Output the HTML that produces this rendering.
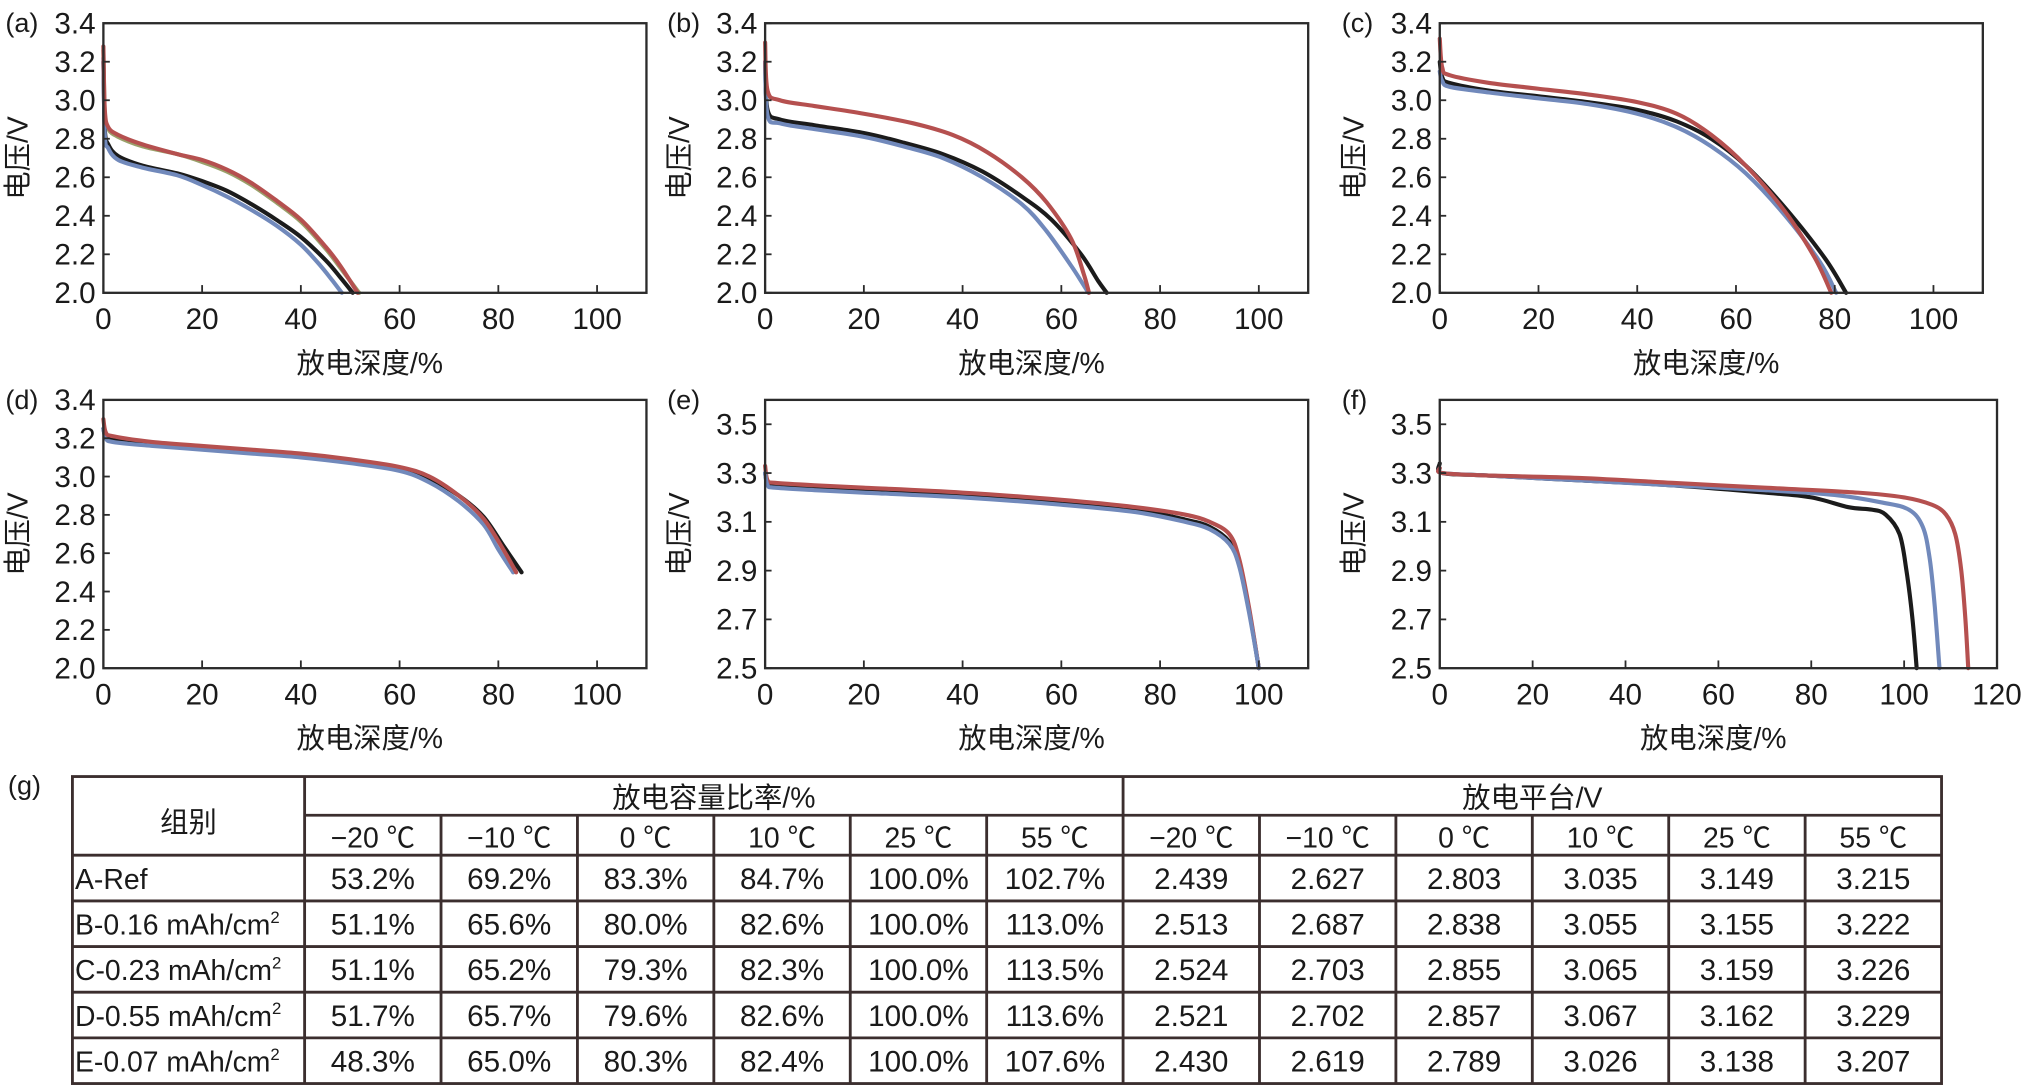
<!DOCTYPE html>
<html><head><meta charset="utf-8">
<style>
html,body{margin:0;padding:0;background:#fff;}
svg{display:block;}
text{font-family:"Liberation Sans","Noto Sans CJK SC",sans-serif;fill:#1a1a1a;}
</style></head>
<body>
<svg id="fig" width="2023" height="1090" viewBox="0 0 1568 845" xmlns="http://www.w3.org/2000/svg"></svg>
<script>
// ---- chart data ----
const xTicks100 = [0,20,40,60,80,100];
const xTicks120 = [0,20,40,60,80,100,120];
const yTicksA = [2.0,2.2,2.4,2.6,2.8,3.0,3.2,3.4];
const yTicksE = [2.5,2.7,2.9,3.1,3.3,3.5];

// panel a
const aRedX = [0,0.3,1,3,8,15,20,25,30,35,40,45,48,51.5];
const aRedY = [3.28,2.95,2.86,2.82,2.77,2.72,2.69,2.64,2.57,2.48,2.38,2.24,2.14,2.0];
const aOliveX = [0,0.3,1,3,8,15,20,25,30,35,40,45,48,51.8];
const aOliveY = [3.26,2.93,2.85,2.81,2.76,2.72,2.68,2.63,2.56,2.47,2.37,2.23,2.13,2.0];
const aBlackX = [0,0.3,1,3,8,15,20,25,30,35,40,45,48,50.5];
const aBlackY = [3.2,2.85,2.77,2.71,2.66,2.62,2.58,2.53,2.46,2.38,2.29,2.17,2.08,2.0];
const aBlueX = [0,0.3,1,3,8,15,20,25,30,35,40,44,46.5,48.3];
const aBlueY = [3.22,2.82,2.75,2.69,2.65,2.61,2.56,2.50,2.43,2.35,2.25,2.14,2.06,2.0];
// panel b
const bRedX = [0,0.5,3,10,20,30,38,45,52,57,62,64.5,65.6];
const bRedY = [3.3,3.05,3.0,2.97,2.93,2.88,2.82,2.73,2.6,2.47,2.28,2.1,2.0];
const bBlackX = [0,0.5,3,10,20,28,36,44,52,58,64,67.5,69.2];
const bBlackY = [3.2,2.95,2.9,2.87,2.83,2.78,2.72,2.63,2.5,2.38,2.2,2.06,2.0];
const bBlueX = [0,0.5,3,10,20,28,36,44,52,57,62,64.5,65.5];
const bBlueY = [3.2,2.92,2.88,2.85,2.81,2.76,2.70,2.60,2.46,2.32,2.14,2.04,2.0];
// panel c
const cRedX = [0,0.5,2,10,20,30,40,48,55,62,70,76,79.3];
const cRedY = [3.32,3.17,3.13,3.09,3.06,3.03,2.99,2.93,2.82,2.66,2.42,2.18,2.0];
const cBlackX = [0,0.5,2,10,20,30,40,48,55,62,70,78,82.3];
const cBlackY = [3.2,3.12,3.09,3.05,3.02,2.99,2.95,2.89,2.80,2.66,2.44,2.18,2.0];
const cBlueX = [0,0.5,2,10,20,30,40,48,55,62,70,77,80.3];
const cBlueY = [3.15,3.10,3.07,3.04,3.01,2.98,2.93,2.86,2.76,2.62,2.40,2.16,2.0];
// panel d
const dRedX = [0,0.5,2,10,20,30,40,50,60,66,72,77,81,83.6];
const dRedY = [3.3,3.23,3.21,3.18,3.16,3.14,3.12,3.09,3.05,3.0,2.9,2.78,2.62,2.5];
const dBlackX = [0,0.5,2,10,20,30,40,50,60,66,72,77,81,84.7];
const dBlackY = [3.25,3.21,3.19,3.17,3.15,3.13,3.11,3.08,3.04,2.99,2.9,2.79,2.64,2.5];
const dBlueX = [0,0.5,2,10,20,30,40,50,60,66,72,77,80,83.0];
const dBlueY = [3.25,3.20,3.18,3.16,3.14,3.12,3.10,3.07,3.03,2.97,2.87,2.75,2.62,2.5];
// panel e
const eRedX = [0,0.5,2,10,20,40,60,75,85,90,94,96,98,100];
const eRedY = [3.33,3.27,3.26,3.25,3.24,3.22,3.19,3.16,3.13,3.10,3.05,2.95,2.75,2.5];
const eBlackX = [0,0.5,2,10,20,40,60,75,85,90,94,96,98,100];
const eBlackY = [3.3,3.26,3.25,3.24,3.23,3.21,3.18,3.15,3.11,3.08,3.02,2.93,2.74,2.5];
const eBlueX = [0,0.5,2,10,20,40,60,75,85,90,94,96,98,100];
const eBlueY = [3.3,3.25,3.24,3.23,3.22,3.20,3.17,3.14,3.10,3.07,3.01,2.92,2.73,2.5];
// panel f
const fBlackX = [0,0.5,10,30,50,70,80,88,93,96,99,100.5,101.8,102.7];
const fBlackY = [3.34,3.30,3.29,3.27,3.25,3.22,3.20,3.16,3.15,3.13,3.05,2.9,2.7,2.5];
const fBlueX = [0,0.5,10,30,50,70,85,95,101,104,105.5,106.6,107.6];
const fBlueY = [3.32,3.30,3.29,3.27,3.25,3.23,3.21,3.18,3.15,3.08,2.95,2.75,2.5];
const fRedX = [0,0.5,10,30,50,70,90,100,106,109,111,112.3,113.2,113.8];
const fRedY = [3.32,3.30,3.29,3.28,3.26,3.24,3.22,3.20,3.17,3.13,3.05,2.9,2.7,2.5];

// table data
const tempHeaders = ["\u221220 \u2103","\u221210 \u2103","0 \u2103","10 \u2103","25 \u2103","55 \u2103"];
const groupNames = ["A-Ref","B-0.16 mAh/cm","C-0.23 mAh/cm","D-0.55 mAh/cm","E-0.07 mAh/cm"];
const capRatio = [
 ["53.2%","69.2%","83.3%","84.7%","100.0%","102.7%"],
 ["51.1%","65.6%","80.0%","82.6%","100.0%","113.0%"],
 ["51.1%","65.2%","79.3%","82.3%","100.0%","113.5%"],
 ["51.7%","65.7%","79.6%","82.6%","100.0%","113.6%"],
 ["48.3%","65.0%","80.3%","82.4%","100.0%","107.6%"]];
const platform = [
 ["2.439","2.627","2.803","3.035","3.149","3.215"],
 ["2.513","2.687","2.838","3.055","3.155","3.222"],
 ["2.524","2.703","2.855","3.065","3.159","3.226"],
 ["2.521","2.702","2.857","3.067","3.162","3.229"],
 ["2.430","2.619","2.789","3.026","3.138","3.207"]];

// ---- drawing ----
const NS="http://www.w3.org/2000/svg";
const svg=document.getElementById('fig');
function mk(tag,attrs,parent){const e=document.createElementNS(NS,tag);for(const k in attrs)e.setAttribute(k,attrs[k]);(parent||svg).appendChild(e);return e;}
const COL={red:"#b5504f",black:"#1b1b1b",blue:"#7189bb",olive:"#9aa06a"};

function smoothPath(P){
  let d='M'+P[0][0].toFixed(1)+','+P[0][1].toFixed(1);
  for(let i=0;i<P.length-1;i++){
    const p0=P[Math.max(0,i-1)],p1=P[i],p2=P[i+1],p3=P[Math.min(P.length-1,i+2)];
    const c1=[p1[0]+(p2[0]-p0[0])/6,p1[1]+(p2[1]-p0[1])/6];
    const c2=[p2[0]-(p3[0]-p1[0])/6,p2[1]-(p3[1]-p1[1])/6];
    d+=` C${c1[0].toFixed(1)},${c1[1].toFixed(1)} ${c2[0].toFixed(1)},${c2[1].toFixed(1)} ${p2[0].toFixed(1)},${p2[1].toFixed(1)}`;
  }
  return d;
}

function panel(p){
  const g=mk('g',{});
  
  
  const sx=v=>p.L+(v-p.xmin)/(p.xmax-p.xmin)*(p.R-p.L);
  const sy=v=>p.B-(v-p.ymin)/(p.ymax-p.ymin)*(p.B-p.T);
  p.series.forEach(s=>{
    const P=s.x.map((xv,i)=>[sx(xv),sy(s.y[i])]);
    const pl=mk('path',{d:smoothPath(P),fill:'none',stroke:COL[s.c],'stroke-width':3.2,'stroke-linejoin':'round','stroke-linecap':'round'},g);
    
    
  });
  const box=mk('rect',{x:p.L,y:p.T,width:p.R-p.L,height:p.B-p.T,fill:'none',stroke:'#2b2b2b','stroke-width':1.8},g);
  
  
  p.xt.forEach(v=>{
    const x=sx(v);
    mk('line',{x1:x,x2:x,y1:p.B,y2:p.B-6,stroke:'#2b2b2b','stroke-width':1.4},g);
    const t=mk('text',{x:x,y:p.B+28,'text-anchor':'middle','font-size':23},g);
    t.textContent=v;
    
    
  });
  p.yt.forEach(v=>{
    const y=sy(v);
    mk('line',{x1:p.L,x2:p.L+5,y1:y,y2:y,stroke:'#2b2b2b','stroke-width':1.4},g);
    const t=mk('text',{x:p.L-6,y:y+8,'text-anchor':'end','font-size':23},g);
    t.textContent=v.toFixed(1);
    
    
  });
  const lab=mk('text',{x:p.L-76,y:p.T+7,'font-size':21},g);
  lab.textContent='('+p.id+')';
  
  
  const yl=mk('text',{x:0,y:0,'font-size':22,'text-anchor':'middle',transform:`translate(${p.L-59},${(p.T+p.B)/2}) rotate(-90)`},g);
  yl.textContent='电压/V';
  
  
  const xl=mk('text',{x:(p.L+p.R)/2-4,y:p.B+62,'font-size':22,'text-anchor':'middle'},g);
  xl.textContent='放电深度/%';
  
  
}
const colsX=[80,593,1116], rowsY=[[18,227],[310,518]];
function P(id,ci,ri,xmax,ymin,ymax,xt,yt,series){
  const L=colsX[ci];
  const R=L+(xmax===120?432:421);
  return {id,L,R,T:rowsY[ri][0],B:rowsY[ri][1],xmin:0,xmax:xmax,ymin,ymax,xt,yt,series};
}
panel(P('a',0,0,110,2.0,3.4,xTicks100,yTicksA,[{x:aOliveX,y:aOliveY,c:'olive'},{x:aBlackX,y:aBlackY,c:'black'},{x:aBlueX,y:aBlueY,c:'blue'},{x:aRedX,y:aRedY,c:'red'}]));
panel(P('b',1,0,110,2.0,3.4,xTicks100,yTicksA,[{x:bBlackX,y:bBlackY,c:'black'},{x:bBlueX,y:bBlueY,c:'blue'},{x:bRedX,y:bRedY,c:'red'}]));
panel(P('c',2,0,110,2.0,3.4,xTicks100,yTicksA,[{x:cBlackX,y:cBlackY,c:'black'},{x:cBlueX,y:cBlueY,c:'blue'},{x:cRedX,y:cRedY,c:'red'}]));
panel(P('d',0,1,110,2.0,3.4,xTicks100,yTicksA,[{x:dBlackX,y:dBlackY,c:'black'},{x:dBlueX,y:dBlueY,c:'blue'},{x:dRedX,y:dRedY,c:'red'}]));
panel(P('e',1,1,110,2.5,3.6,xTicks100,yTicksE,[{x:eBlackX,y:eBlackY,c:'black'},{x:eRedX,y:eRedY,c:'red'},{x:eBlueX,y:eBlueY,c:'blue'}]));
panel(P('f',2,1,120,2.5,3.6,xTicks120,yTicksE,[{x:fBlackX,y:fBlackY,c:'black'},{x:fBlueX,y:fBlueY,c:'blue'},{x:fRedX,y:fRedY,c:'red'}]));

// table
const tg=mk('g',{});


const gl=mk('text',{x:6,y:616,'font-size':21},tg);
gl.textContent='(g)';


const TL=56,TR=1505,C0=236,TT=602,H1=632,H2=663,RH=35.4;
const cw=(TR-C0)/12;
const TB=H2+RH*5;
const ls={stroke:'#3b2e2e','stroke-width':2.2};
mk('rect',Object.assign({x:TL,y:TT,width:TR-TL,height:TB-TT,fill:'none'},ls),tg);
mk('line',Object.assign({x1:C0,x2:TR,y1:H1,y2:H1},ls),tg);
mk('line',Object.assign({x1:TL,x2:TR,y1:H2,y2:H2},ls),tg);
for(let r=1;r<5;r++) mk('line',Object.assign({x1:TL,x2:TR,y1:H2+RH*r,y2:H2+RH*r},ls),tg);
mk('line',Object.assign({x1:C0,x2:C0,y1:TT,y2:TB},ls),tg);
for(let c=1;c<12;c++) mk('line',Object.assign({x1:C0+cw*c,x2:C0+cw*c,y1:c===6?TT:H1,y2:TB},ls),tg);
function tt(x,y,s,anchor,name,fs){const t=mk('text',{x,y,'font-size':fs||23,'text-anchor':anchor||'middle'},tg);t.textContent=s;return t;}
tt((TL+C0)/2,645,'组别','middle','group-header',22);
tt(C0+cw*3,626,'放电容量比率/%','middle','capacity-ratio-header',22);
tt(C0+cw*9,626,'放电平台/V','middle','platform-header',22);
tempHeaders.forEach((h,i)=>{tt(C0+cw*(i+0.5),657,h,'middle','temp-header',22);tt(C0+cw*(i+6.5),657,h,'middle','temp-header',22);});
groupNames.forEach((n,r)=>{
  const y=H2+RH*r+26;
  const t=tt(TL+2,y,n,'start','group-name',22);
  if(r>0){const s=document.createElementNS(NS,'tspan');s.setAttribute('font-size',13);s.setAttribute('dy',-9);s.textContent='2';t.appendChild(s);}
  capRatio[r].forEach((v,i)=>tt(C0+cw*(i+0.5),y,v,'middle','capacity-cell'));
  platform[r].forEach((v,i)=>tt(C0+cw*(i+6.5),y,v,'middle','platform-cell'));
});
</script>
</body></html>
